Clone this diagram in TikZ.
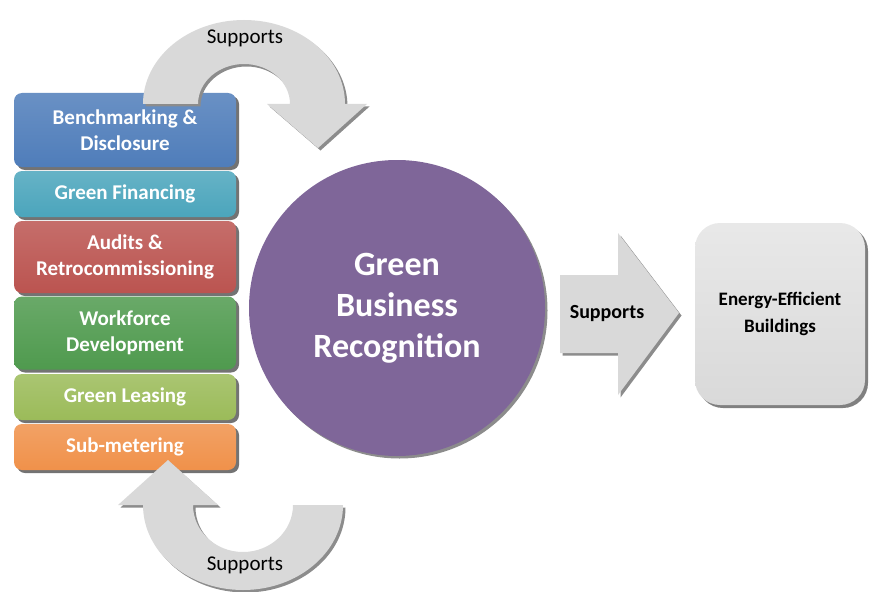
\documentclass[tikz,border=0pt]{standalone}
\usepackage{fontspec}
\setmainfont{Carlito}
\usetikzlibrary{calc}
\usetikzlibrary{shadows}
\definecolor{benchblue}{HTML}{4F7DBA}
\definecolor{financeteal}{HTML}{4BA5BC}
\definecolor{auditred}{HTML}{BB5450}
\definecolor{workgreen}{HTML}{4F9A4E}
\definecolor{leaselime}{HTML}{9BBB59}
\definecolor{meterorange}{HTML}{F0914A}
\definecolor{recogpurple}{HTML}{7F6699}
\definecolor{arrowgray}{HTML}{D9D9D9}
\tikzset{
	stackbox/.style={rectangle,rounded corners=8pt,minimum width=222pt,text=white,align=center,
		font=\fontsize{21}{26}\selectfont\bfseries,top color=#1!85!white,bottom color=#1,
		drop shadow={shadow xshift=3pt,shadow yshift=-3pt,fill=black!55,opacity=1}},
	grayshape/.style={fill=arrowgray,drop shadow={shadow xshift=2.5pt,shadow yshift=-2.5pt,fill=black!45,opacity=1}},
	supportlabel/.style={font=\fontsize{21}{24}\selectfont},
}
\begin{document}
\begin{tikzpicture}[x=1pt,y=-1pt]
	\useasboundingbox (0,0) rectangle (869,591);
	\node[stackbox=benchblue,minimum height=74pt] (bench) at (125,130) {Benchmarking \&\\Disclosure};
	\node[stackbox=financeteal,minimum height=46pt] (financing) at (125,194) {Green Financing};
	\node[stackbox=auditred,minimum height=72pt] (audits) at (125,257) {Audits \&\\Retrocommissioning};
	\node[stackbox=workgreen,minimum height=73pt] (workforce) at (125,333) {Workforce\\Development};
	\node[stackbox=leaselime,minimum height=46pt] (leasing) at (125,397) {Green Leasing};
	\node[stackbox=meterorange,minimum height=46pt] (submeter) at (125,447) {Sub-metering};
	\node[circle,minimum size=296pt,fill=recogpurple,text=white,align=center,
		font=\fontsize{34}{41}\selectfont\bfseries,
		drop shadow={shadow xshift=2.5pt,shadow yshift=-2.5pt,fill=black!45,opacity=1}] (recog) at (397,308) {Green\\Business\\Recognition};
	\node[rectangle,rounded corners=25pt,minimum width=170pt,minimum height=182pt,align=center,
		font=\fontsize{19}{27}\selectfont\bfseries,top color=arrowgray!60!white,bottom color=arrowgray,
		drop shadow={shadow xshift=3pt,shadow yshift=-3pt,fill=black!50,opacity=1}] (buildings) at (780,314) {Energy-Efficient\\Buildings};
	\coordinate (topc) at (244,104);
	\coordinate (botc) at (243,505);
	\path[grayshape] ($ (topc) + (-101,0) $) arc[start angle=180,end angle=360,x radius=101,y radius=84]
		-- ($ (topc) + (123,0) $) -- ($ (topc) + (74,44) $) -- ($ (topc) + (23,0) $) -- ($ (topc) + (46,0) $)
		arc[start angle=360,end angle=180,x radius=46,y radius=40] -- cycle;
	\path[grayshape] ($ (botc) + (-100,0) $) arc[start angle=180,end angle=0,x radius=100,y radius=85]
		-- ($ (botc) + (50,0) $) arc[start angle=0,end angle=180,x radius=50,y radius=47]
		-- ($ (botc) + (-25,0) $) -- ($ (botc) + (-75,-45) $) -- ($ (botc) + (-125,0) $) -- cycle;
	\path[grayshape] (560,275) -- (618,275) -- (618,233) -- (679,313) -- (618,395) -- (618,353) -- (560,353) -- cycle;
	\node[supportlabel] (topsupports) at (245,38) {Supports};
	\node[supportlabel] (botsupports) at (245,565) {Supports};
	\node[font=\fontsize{20}{24}\selectfont\bfseries] (midsupports) at (607,314) {Supports};
\end{tikzpicture}
\end{document}
